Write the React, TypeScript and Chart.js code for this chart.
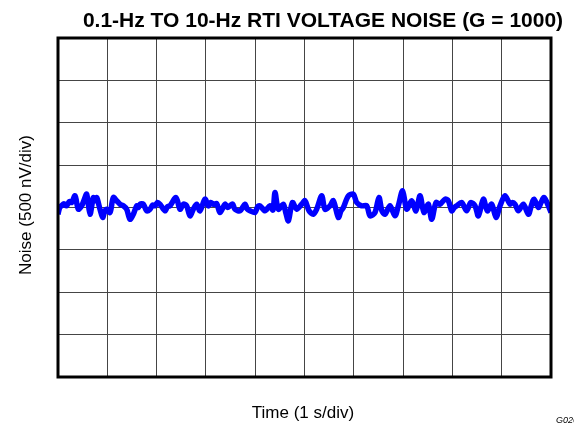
import React, { useEffect, useRef } from "react";
import { Chart, registerables } from "chart.js";

Chart.register(...registerables);

const TITLE = "0.1-Hz TO 10-Hz RTI VOLTAGE NOISE (G = 1000)";
const X_LABEL = "Time (1 s/div)";
const Y_LABEL = "Noise (500 nV/div)";
const TAG = "G026";

// time in seconds
const times = [
  0.0, 0.04, 0.074, 0.12, 0.176, 0.23, 0.277, 0.345, 0.412, 0.48, 0.53, 0.582, 0.649, 0.717, 0.75, 0.784,
  0.852, 0.906, 0.95, 0.987, 1.055, 1.122, 1.19, 1.258, 1.325, 1.393, 1.46, 1.528, 1.596, 1.63, 1.663,
  1.731, 1.798, 1.866, 1.92, 1.967, 2.02, 2.069, 2.17, 2.22, 2.272, 2.394, 2.475, 2.542, 2.61, 2.677,
  2.745, 2.813, 2.88, 2.982, 3.049, 3.1, 3.151, 3.22, 3.286, 3.387, 3.44, 3.489, 3.54, 3.59, 3.692,
  3.793, 3.84, 3.895, 3.996, 4.05, 4.098, 4.199, 4.3, 4.36, 4.402, 4.47, 4.571, 4.62, 4.673, 4.754,
  4.842, 4.943, 5.011, 5.092, 5.18, 5.247, 5.349, 5.416, 5.518, 5.585, 5.687, 5.74, 5.788, 5.89, 5.991,
  6.059, 6.16, 6.262, 6.33, 6.43, 6.51, 6.57, 6.633, 6.734, 6.836, 6.903, 6.991, 7.072, 7.174, 7.262,
  7.343, 7.424, 7.512, 7.58, 7.668, 7.749, 7.85, 7.918, 7.986, 8.04, 8.087, 8.188, 8.29, 8.371, 8.459,
  8.527, 8.628, 8.709, 8.797, 8.885, 8.966, 9.067, 9.169, 9.22, 9.27, 9.338, 9.439, 9.541, 9.6, 9.656,
  9.744, 9.8, 9.859, 9.947, 10.0,
];

// noise in nV
const noise = [
  -79, 10, 20, 45, 20, 70, 59, 138, -20, 20, 90, 157, -79, 118, 80, 118,
  -20, -118, -40, -20, -59, 118, 79, 39, 20, -20, -138, -79, 20, 0, 39,
  39, -39, -20, 30, 20, 60, 39, -39, 10, 20, 118, -20, 39, 20, -98,
  -20, 39, -39, 98, 20, 60, 39, 45, -59, 39, 0, 20, 40, -20, -39,
  39, -20, -39, -59, 10, 20, -39, 20, -30, 177, -20, 39, -60, -157, 59,
  -20, 39, 79, -39, -79, -20, 138, -20, 20, 79, -118, -40, 0, 138, 157,
  59, 20, 20, -98, -59, 118, -40, -79, 20, -98, 20, 197, -20, 79, -39,
  138, -59, 39, -138, 59, 39, 98, 79, -39, 0, 20, 59, -39, 59, 20,
  -98, 98, -39, 39, -118, 20, 138, 39, 60, 39, -39, 39, -79, 20, 98,
  0, 60, 118, 20, -59,
];

const X_MIN = 0;
const X_MAX = 10;
const Y_MIN = -2000;
const Y_MAX = 2000;

export default function App() {
  const ref = useRef<HTMLCanvasElement | null>(null);

  useEffect(() => {
    const canvas = ref.current;
    if (!canvas) return;

    const frame = {
      id: "frame",
      afterDraw(chart: any) {
        const { ctx, chartArea } = chart;
        const { left, top, right, bottom } = chartArea;
        ctx.save();
        ctx.strokeStyle = "#000";
        ctx.lineWidth = 3;
        ctx.strokeRect(left, top, right - left, bottom - top);

        ctx.fillStyle = "#000";
        ctx.textAlign = "center";
        ctx.textBaseline = "alphabetic";
        ctx.font = "bold 21px 'Liberation Sans', Arial, sans-serif";
        ctx.fillText(TITLE, 323, 27);

        ctx.font = "17px 'Liberation Sans', Arial, sans-serif";
        ctx.fillText(X_LABEL, 303, 418);

        ctx.save();
        ctx.translate(31, 205);
        ctx.rotate(-Math.PI / 2);
        ctx.fillText(Y_LABEL, 0, 0);
        ctx.restore();

        ctx.font = "italic 9px 'Liberation Sans', Arial, sans-serif";
        ctx.textAlign = "left";
        ctx.fillText(TAG, 556, 423);
        ctx.restore();
      },
    };

    const chart = new Chart(canvas, {
      type: "line",
      data: {
        datasets: [
          {
            data: times.map((t, i) => ({ x: t, y: noise[i] })),
            borderColor: "#0000ff",
            borderWidth: 5.5,
            pointRadius: 0,
            tension: 0.3,
            fill: false,
          },
        ],
      },
      options: {
        animation: false,
        responsive: false,
        maintainAspectRatio: false,
        layout: { padding: { left: 58, top: 38, right: 23, bottom: 48 } },
        plugins: {
          legend: { display: false },
          tooltip: { enabled: false },
          title: { display: false },
        },
        scales: {
          x: {
            type: "linear",
            min: X_MIN,
            max: X_MAX,
            ticks: { display: false, stepSize: 1 },
            grid: { color: "#454545", lineWidth: 1, drawTicks: false },
            border: { display: false },
          },
          y: {
            type: "linear",
            min: Y_MIN,
            max: Y_MAX,
            ticks: { display: false, stepSize: 500 },
            grid: { color: "#454545", lineWidth: 1, drawTicks: false },
            border: { display: false },
          },
        },
      },
      plugins: [frame],
    });

    return () => chart.destroy();
  }, []);

  return (
    <div style={{ position: "fixed", left: 0, top: 0, width: 574, height: 425, background: "#fff" }}>
      <canvas ref={ref} width={574} height={425} style={{ display: "block" }} />
    </div>
  );
}
